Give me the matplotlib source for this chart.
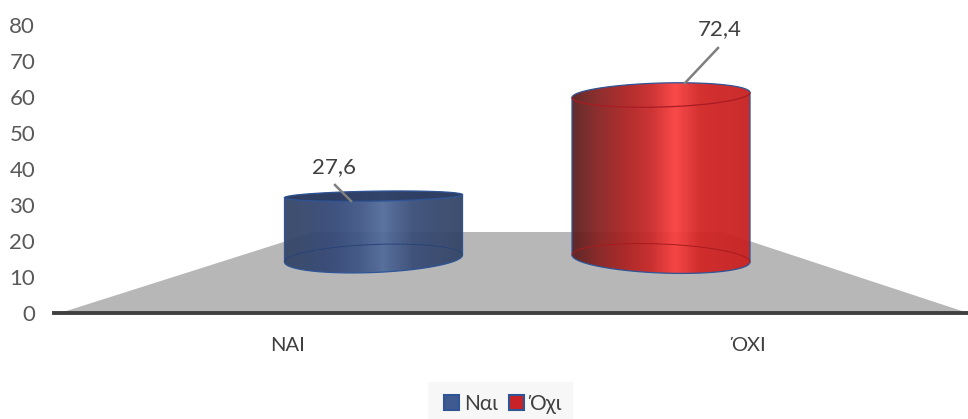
import numpy as np
import matplotlib
matplotlib.use("Agg")
import matplotlib.pyplot as plt
from matplotlib.colors import LinearSegmentedColormap
from matplotlib.patches import Patch, PathPatch, Polygon, Rectangle
from matplotlib.path import Path

categories = ["ΝΑΙ", "ΌΧΙ"]
series_names = ["Ναι", "Όχι"]
values = [27.6, 72.4]
y_ticks = [0, 10, 20, 30, 40, 50, 60, 70, 80]

plt.rcParams["font.family"] = ["Lato", "Open Sans", "DejaVu Sans"]
W, H = 968, 419
fig = plt.figure(figsize=(W / 100, H / 100), dpi=100)
L, R, B, T = 54, 968, 313, 25
ax = fig.add_axes([L / W, (H - B) / H, (R - L) / W, (B - T) / H])
X0, XPER = 288, 461
ax.set_xlim((L - X0) / XPER, (R - X0) / XPER)
ax.set_ylim(0, 80)
PY = 80 / (B - T)   # data units per pixel
def xd(px): return (px - X0) / XPER
def yd(py): return (B - py) * PY

# floor
ax.add_patch(Polygon([(xd(60), 0), (xd(315), yd(232)), (xd(722), yd(232)), (xd(968), 0)],
                     closed=True, fc="#b7b7b7", ec="none", zorder=1))

BASE = yd(258.5)
SCALE = 2.258 * PY   # height of the 3-D column per value unit
styles = [
    dict(cx=373.5, rx=89, ry_t=5, ry_b=14, tilt_t=1.5, tilt_b=3.5, edge="#2f5597", inner="#2c3c60",
         stops=[(0, "#354565"), (.25, "#344877"), (.42, "#405686"), (.55, "#536c9c"), (.72, "#3a4e78"), (1, "#334466")]),
    dict(cx=661, rx=89, ry_t=12, ry_b=14.5, tilt_t=2.5, tilt_b=-3.5, edge="#2f5597", inner=None,
         stops=[(0, "#5a2020"), (.15, "#8a2323"), (.3, "#ac2222"), (.45, "#cc2a2a"), (.58, "#fa4040"), (.72, "#d22626"), (1, "#c82020")]),
]

def ell(st, yc_px, ry, tilt, t):
    return np.column_stack([xd(st["cx"] + st["rx"] * np.cos(t)),
                            yd(yc_px - ry * np.sin(t) - tilt * np.cos(t))])

for val, st in zip(values, styles):
    top_px = B - (BASE + val * SCALE) / PY
    bot_px = B - BASE / PY
    t_top = np.linspace(0, np.pi, 80)
    t_bot = np.linspace(np.pi, 2 * np.pi, 80)
    verts = np.vstack([ell(st, top_px, st["ry_t"], st["tilt_t"], t_top),
                       ell(st, bot_px, st["ry_b"], st["tilt_b"], t_bot)])
    path = Path(np.vstack([verts, verts[:1]]), closed=True)
    cmap = LinearSegmentedColormap.from_list("c", st["stops"])
    im = ax.imshow(np.linspace(0, 1, 256)[None, :], cmap=cmap, aspect="auto", alpha=0.95, zorder=2,
                   extent=[xd(st["cx"] - st["rx"]), xd(st["cx"] + st["rx"]), 0, 80],
                   interpolation="bilinear")
    clip = PathPatch(path, transform=ax.transData, fc="none", ec="none")
    ax.add_patch(clip)
    im.set_clip_path(clip)
    ax.add_patch(PathPatch(path, fc="none", ec=st["edge"], lw=0.9, zorder=4))
    # top face
    t_all = np.linspace(0, 2 * np.pi, 160)
    top_e = ell(st, top_px, st["ry_t"], st["tilt_t"], t_all)
    if st["inner"]:
        ax.add_patch(Polygon(top_e, closed=True, fc=st["inner"], ec="none", alpha=.85, zorder=3))
        ax.plot(*ell(st, top_px, st["ry_t"], st["tilt_t"], t_bot).T, color=st["edge"], lw=0.9, zorder=4)
    else:
        ax.plot(*ell(st, top_px, st["ry_t"], st["tilt_t"], t_bot).T, color="#a81c24", lw=0.9, zorder=4)
    # far rim of the base seen through the column
    ax.plot(*ell(st, bot_px, st["ry_b"], st["tilt_b"], t_top).T,
            color="#2a4477" if st["inner"] else "#a81c1c", lw=0.7, zorder=4)

# value labels with leader lines
anchors = [(351, 201, 334, 167, 335, 185), (685, 83, 720, 29, 718, 48)]
for val, (ax_, ay, tx, ty, lx, ly) in zip(values, anchors):
    ax.plot([xd(ax_), xd(lx)], [yd(ay), yd(ly)], color="#7f7f7f", lw=1.8, zorder=5)
    ax.text(xd(tx), yd(ty), f"{val:.1f}".replace(".", ","), ha="center", va="center",
            fontsize=16, color="#404040", zorder=6)

ax.set_yticks(y_ticks)
ax.set_yticklabels([str(v) for v in y_ticks], fontsize=16, color="#595959")
ax.set_xticks([0, 1])
ax.set_xticklabels(categories, fontsize=14.5, color="#404040")
ax.tick_params(axis="y", length=0, pad=13.5)
ax.tick_params(axis="x", length=0, pad=17)
for s in ("top", "left", "right"):
    ax.spines[s].set_visible(False)
ax.spines["bottom"].set_color("#404040")
ax.spines["bottom"].set_linewidth(2.8)
ax.set_facecolor("none")

fig.add_artist(Rectangle((428 / W, 0), 145 / W, 37 / H, transform=fig.transFigure,
                         fc="#f7f7f7", ec="none", zorder=-1))
handles = [Patch(fc="#3f5a8f", ec="#2f5597", lw=1.5), Patch(fc="#c92226", ec="#2f5597", lw=1.5)]
leg = fig.legend(handles, series_names, loc="lower left", bbox_to_anchor=(444 / W, 5 / H), ncol=2,
                 fontsize=15, frameon=False, handlelength=0.72, handleheight=0.72, handletextpad=0.25,
                 columnspacing=0.55, labelcolor="#404040", borderpad=0, borderaxespad=0)
fig.savefig("out.png", dpi=100)
